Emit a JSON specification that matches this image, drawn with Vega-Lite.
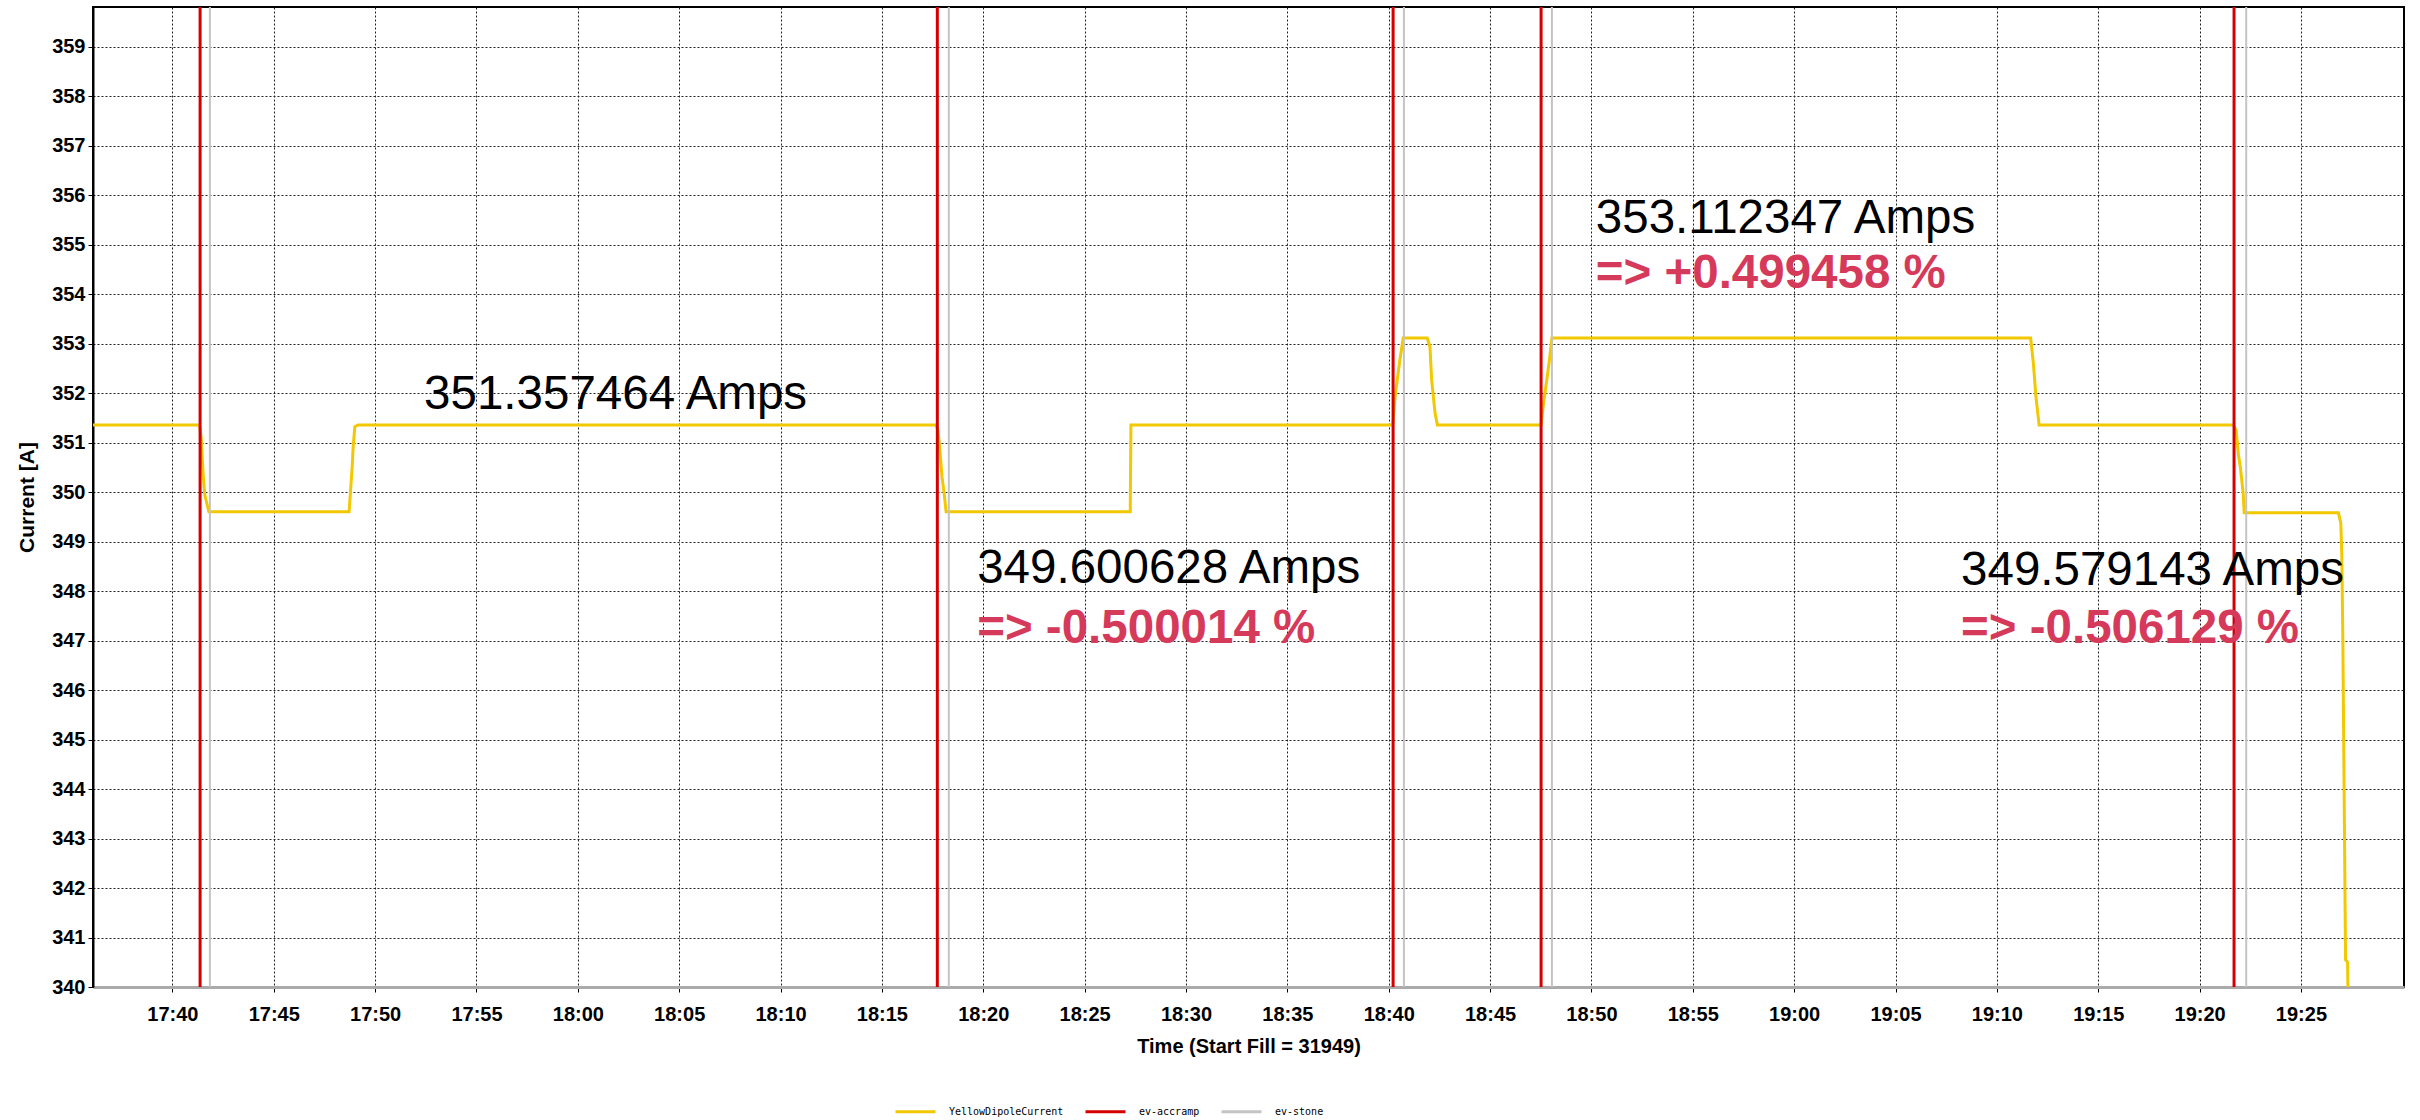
{
  "$schema": "https://vega.github.io/schema/vega-lite/v6.json",
  "width": 2311,
  "height": 980,
  "autosize": {"type": "none"},
  "padding": {"left": 93, "top": 7, "right": 16, "bottom": 133},
  "background": "white",
  "config": {
    "view": {"stroke": "#000000", "strokeWidth": 2},
    "axis": {
      "labelFont": "Liberation Sans",
      "labelFontSize": 20,
      "labelFontWeight": "bold",
      "labelColor": "#000000",
      "titleFont": "Liberation Sans",
      "titleFontSize": 20,
      "titleFontWeight": "bold",
      "titleColor": "#000000",
      "tickColor": "#000000",
      "gridColor": "#222222",
      "gridDash": [2, 2],
      "gridWidth": 1
    }
  },
  "layer": [
    {
      "data": {"values": [
        {"t": "2022-04-01T17:36:05Z", "v": 351.357, "s": "YellowDipoleCurrent"},
        {"t": "2022-04-01T17:41:20Z", "v": 351.357, "s": "YellowDipoleCurrent"},
        {"t": "2022-04-01T17:41:25Z", "v": 351.11, "s": "YellowDipoleCurrent"},
        {"t": "2022-04-01T17:41:31Z", "v": 350.35, "s": "YellowDipoleCurrent"},
        {"t": "2022-04-01T17:41:36Z", "v": 349.94, "s": "YellowDipoleCurrent"},
        {"t": "2022-04-01T17:41:48Z", "v": 349.60, "s": "YellowDipoleCurrent"},
        {"t": "2022-04-01T17:48:43Z", "v": 349.60, "s": "YellowDipoleCurrent"},
        {"t": "2022-04-01T17:48:46Z", "v": 349.90, "s": "YellowDipoleCurrent"},
        {"t": "2022-04-01T17:48:52Z", "v": 350.50, "s": "YellowDipoleCurrent"},
        {"t": "2022-04-01T17:48:55Z", "v": 350.91, "s": "YellowDipoleCurrent"},
        {"t": "2022-04-01T17:49:00Z", "v": 351.32, "s": "YellowDipoleCurrent"},
        {"t": "2022-04-01T17:49:09Z", "v": 351.357, "s": "YellowDipoleCurrent"},
        {"t": "2022-04-01T18:17:40Z", "v": 351.357, "s": "YellowDipoleCurrent"},
        {"t": "2022-04-01T18:17:46Z", "v": 351.25, "s": "YellowDipoleCurrent"},
        {"t": "2022-04-01T18:17:52Z", "v": 350.81, "s": "YellowDipoleCurrent"},
        {"t": "2022-04-01T18:17:58Z", "v": 350.30, "s": "YellowDipoleCurrent"},
        {"t": "2022-04-01T18:18:04Z", "v": 349.98, "s": "YellowDipoleCurrent"},
        {"t": "2022-04-01T18:18:10Z", "v": 349.60, "s": "YellowDipoleCurrent"},
        {"t": "2022-04-01T18:27:15Z", "v": 349.60, "s": "YellowDipoleCurrent"},
        {"t": "2022-04-01T18:27:17Z", "v": 351.357, "s": "YellowDipoleCurrent"},
        {"t": "2022-04-01T18:40:12Z", "v": 351.357, "s": "YellowDipoleCurrent"},
        {"t": "2022-04-01T18:40:19Z", "v": 351.93, "s": "YellowDipoleCurrent"},
        {"t": "2022-04-01T18:40:33Z", "v": 352.67, "s": "YellowDipoleCurrent"},
        {"t": "2022-04-01T18:40:43Z", "v": 353.11, "s": "YellowDipoleCurrent"},
        {"t": "2022-04-01T18:41:54Z", "v": 353.11, "s": "YellowDipoleCurrent"},
        {"t": "2022-04-01T18:42:02Z", "v": 352.94, "s": "YellowDipoleCurrent"},
        {"t": "2022-04-01T18:42:07Z", "v": 352.27, "s": "YellowDipoleCurrent"},
        {"t": "2022-04-01T18:42:17Z", "v": 351.60, "s": "YellowDipoleCurrent"},
        {"t": "2022-04-01T18:42:24Z", "v": 351.357, "s": "YellowDipoleCurrent"},
        {"t": "2022-04-01T18:47:31Z", "v": 351.357, "s": "YellowDipoleCurrent"},
        {"t": "2022-04-01T18:47:37Z", "v": 351.73, "s": "YellowDipoleCurrent"},
        {"t": "2022-04-01T18:47:48Z", "v": 352.27, "s": "YellowDipoleCurrent"},
        {"t": "2022-04-01T18:47:57Z", "v": 352.74, "s": "YellowDipoleCurrent"},
        {"t": "2022-04-01T18:48:03Z", "v": 353.11, "s": "YellowDipoleCurrent"},
        {"t": "2022-04-01T19:11:40Z", "v": 353.11, "s": "YellowDipoleCurrent"},
        {"t": "2022-04-01T19:11:48Z", "v": 352.6, "s": "YellowDipoleCurrent"},
        {"t": "2022-04-01T19:11:56Z", "v": 351.9, "s": "YellowDipoleCurrent"},
        {"t": "2022-04-01T19:12:05Z", "v": 351.357, "s": "YellowDipoleCurrent"},
        {"t": "2022-04-01T19:21:40Z", "v": 351.357, "s": "YellowDipoleCurrent"},
        {"t": "2022-04-01T19:21:48Z", "v": 351.25, "s": "YellowDipoleCurrent"},
        {"t": "2022-04-01T19:21:55Z", "v": 350.75, "s": "YellowDipoleCurrent"},
        {"t": "2022-04-01T19:22:01Z", "v": 350.48, "s": "YellowDipoleCurrent"},
        {"t": "2022-04-01T19:22:09Z", "v": 349.98, "s": "YellowDipoleCurrent"},
        {"t": "2022-04-01T19:22:12Z", "v": 349.58, "s": "YellowDipoleCurrent"},
        {"t": "2022-04-01T19:26:51Z", "v": 349.58, "s": "YellowDipoleCurrent"},
        {"t": "2022-04-01T19:26:58Z", "v": 349.37, "s": "YellowDipoleCurrent"},
        {"t": "2022-04-01T19:27:01Z", "v": 348.69, "s": "YellowDipoleCurrent"},
        {"t": "2022-04-01T19:27:04Z", "v": 347.01, "s": "YellowDipoleCurrent"},
        {"t": "2022-04-01T19:27:12Z", "v": 340.55, "s": "YellowDipoleCurrent"},
        {"t": "2022-04-01T19:27:18Z", "v": 340.5, "s": "YellowDipoleCurrent"},
        {"t": "2022-04-01T19:27:19Z", "v": 340.0, "s": "YellowDipoleCurrent"}
      ]},
      "mark": {"type": "line", "strokeWidth": 3},
      "encoding": {
        "x": {
          "field": "t",
          "type": "temporal",
          "scale": {"type": "utc", "domain": [1648834565000, 1648841405000]},
          "axis": {
            "title": "Time (Start Fill = 31949)",
            "values": [1648834800000, 1648835100000, 1648835400000, 1648835700000, 1648836000000, 1648836300000, 1648836600000, 1648836900000, 1648837200000, 1648837500000, 1648837800000, 1648838100000, 1648838400000, 1648838700000, 1648839000000, 1648839300000, 1648839600000, 1648839900000, 1648840200000, 1648840500000, 1648840800000, 1648841100000],
            "labelExpr": "(utchours(datum.value) < 10 ? '0' : '') + utchours(datum.value) + ':' + (utcminutes(datum.value) < 10 ? '0' : '') + utcminutes(datum.value)",
            "grid": true,
            "tickSize": 5,
            "labelPadding": 12,
            "titlePadding": 12,
            "domainColor": "#aaaaaa",
            "domainWidth": 3
          }
        },
        "y": {
          "field": "v",
          "type": "quantitative",
          "scale": {"domain": [340, 359.8], "zero": false, "nice": false},
          "axis": {
            "title": "Current [A]",
            "titleFontSize": 21,
            "titlePadding": 14,
            "tickCount": 20,
            "format": "d",
            "grid": true,
            "tickSize": 5,
            "labelPadding": 3,
            "domainColor": "#000000",
            "domainWidth": 2
          }
        },
        "color": {
          "field": "s",
          "type": "nominal",
          "scale": {
            "domain": ["YellowDipoleCurrent", "ev-accramp", "ev-stone"],
            "range": ["#f2c800", "#d40000", "#c4c4c4"]
          },
          "legend": {
            "orient": "none",
            "legendX": 801,
            "legendY": 1083,
            "direction": "horizontal",
            "title": null,
            "symbolType": "stroke",
            "symbolSize": 1600,
            "symbolStrokeWidth": 3,
            "labelFont": "DejaVu Sans Mono",
            "labelFontSize": 10,
            "labelColor": "#000000",
            "labelOffset": 12,
            "columnPadding": 15
          }
        }
      }
    },
    {
      "data": {"values": [
        {"t": "2022-04-01T17:41:51Z", "s": "ev-stone"},
        {"t": "2022-04-01T18:18:18Z", "s": "ev-stone"},
        {"t": "2022-04-01T18:40:45Z", "s": "ev-stone"},
        {"t": "2022-04-01T18:48:03Z", "s": "ev-stone"},
        {"t": "2022-04-01T19:22:18Z", "s": "ev-stone"}
      ]},
      "mark": {"type": "rule", "strokeWidth": 2},
      "encoding": {
        "x": {"field": "t", "type": "temporal"},
        "color": {"field": "s", "type": "nominal"}
      }
    },
    {
      "data": {"values": [
        {"t": "2022-04-01T17:41:22Z", "s": "ev-accramp"},
        {"t": "2022-04-01T18:17:44Z", "s": "ev-accramp"},
        {"t": "2022-04-01T18:40:13Z", "s": "ev-accramp"},
        {"t": "2022-04-01T18:47:31Z", "s": "ev-accramp"},
        {"t": "2022-04-01T19:21:42Z", "s": "ev-accramp"}
      ]},
      "mark": {"type": "rule", "strokeWidth": 3},
      "encoding": {
        "x": {"field": "t", "type": "temporal"},
        "color": {"field": "s", "type": "nominal"}
      }
    },
    {
      "data": {"values": [
        {"t": "2022-04-01T17:52:25Z", "v": 351.68, "label": "351.357464 Amps"},
        {"t": "2022-04-01T18:19:42Z", "v": 348.16, "label": "349.600628 Amps"},
        {"t": "2022-04-01T18:50:13Z", "v": 355.235, "label": "353.112347 Amps"},
        {"t": "2022-04-01T19:08:14Z", "v": 348.12, "label": "349.579143 Amps"}
      ]},
      "mark": {"type": "text", "align": "left", "baseline": "alphabetic", "font": "Liberation Sans", "fontSize": 47.5, "color": "#000000"},
      "encoding": {
        "x": {"field": "t", "type": "temporal"},
        "y": {"field": "v", "type": "quantitative"},
        "text": {"field": "label"}
      }
    },
    {
      "data": {"values": [
        {"t": "2022-04-01T18:19:42Z", "v": 346.95, "label": "=> -0.500014 %"},
        {"t": "2022-04-01T18:50:13Z", "v": 354.124, "label": "=> +0.499458 %"},
        {"t": "2022-04-01T19:08:14Z", "v": 346.95, "label": "=> -0.506129 %"}
      ]},
      "mark": {"type": "text", "align": "left", "baseline": "alphabetic", "font": "Liberation Sans", "fontSize": 47.5, "fontWeight": "bold", "color": "#d63a5a"},
      "encoding": {
        "x": {"field": "t", "type": "temporal"},
        "y": {"field": "v", "type": "quantitative"},
        "text": {"field": "label"}
      }
    }
  ]
}
